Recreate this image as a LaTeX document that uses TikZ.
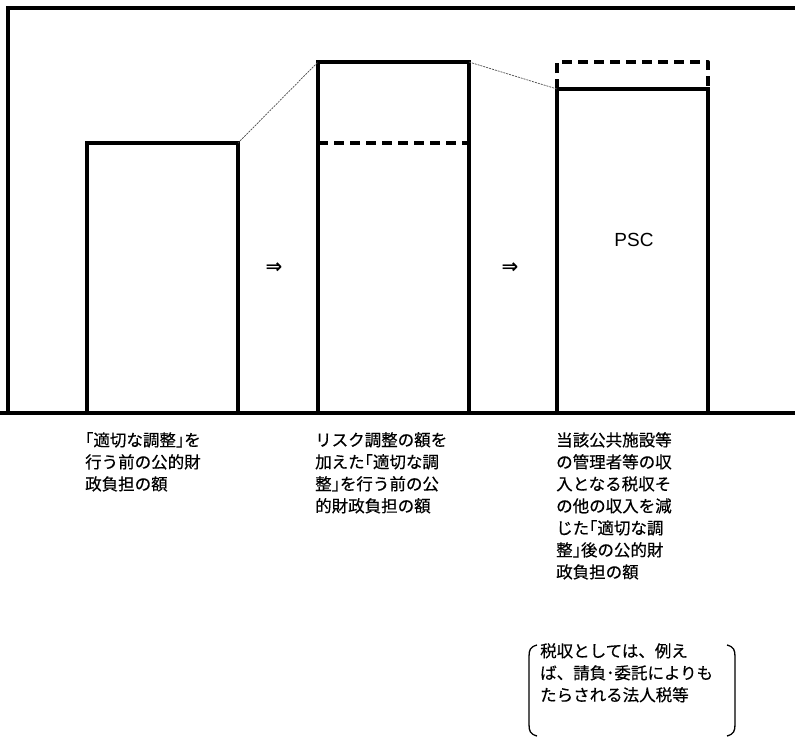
\documentclass[tikz,border=0pt]{standalone}
\usepackage{fontspec}
\newfontfamily\jp[FakeBold=0.4]{Noto Sans CJK JP}
\newfontfamily\lat{Liberation Sans}
\newfontfamily\sym{DejaVu Sans}
\begin{document}
\begin{tikzpicture}[x=1pt,y=-1pt,
  thickline/.style={line width=4pt},
  dashline/.style={line width=4pt,dash pattern=on 10pt off 6pt},
  guide/.style={line width=0.7pt,dash pattern=on 2pt off 1pt,black!70},
  bar/.style={draw,line width=4pt,inner sep=0pt,outer sep=0pt,minimum width=151pt,anchor=south west},
  label/.style={anchor=north west,inner sep=0pt,align=left,font=\jp\fontsize{16.5}{22}\selectfont}
]
\useasboundingbox (0,0) rectangle (795,740);
\fill[white] (0,0) rectangle (795,740);
% frame
\draw[thickline] (0,413) -- (795,413);
\draw[thickline] (8,413) -- (8,8) -- (795,8);
% bars
\node[bar,minimum height=270pt] (b1) at (87,413) {};
\node[bar,minimum height=351pt] (b2) at (318,413) {};
\node[bar,minimum height=324pt] (b3) at (557,413) {};
\coordinate (d2l) at (318,143);
\coordinate (d2r) at (469,143);
\draw[dashline] (d2l) -- (d2r);
\coordinate (d3l) at (557,89);
\coordinate (d3r) at (708,89);
\draw[dashline,line join=round] (d3l) -- (557,62) -- (708,62) -- (d3r);
% guides
\draw[guide] (b1.north east) -- (b2.north west);
\draw[guide] (b2.north east) -- (b3.north west);
% arrows and label
\node[font=\sym\bfseries\fontsize{20}{20}\selectfont] (a1) at (274,268) {⇒};
\node[font=\sym\bfseries\fontsize{20}{20}\selectfont] (a2) at (510,268) {⇒};
\node[font=\lat\fontsize{19}{19}\selectfont] (psc) at (634,240) {PSC};
% texts
\node[label] (t1) at (85,432) {｢適切な調整｣を\\行う前の公的財\\政負担の額};
\node[label] (t2) at (315,432) {リスク調整の額を\\加えた｢適切な調\\整｣を行う前の公\\的財政負担の額};
\node[label] (t3) at (556,432) {当該公共施設等\\の管理者等の収\\入となる税収そ\\の他の収入を減\\じた｢適切な調\\整｣後の公的財\\政負担の額};
\node[label] (t4) at (540,643) {税収としては、例え\\ば、請負･委託によりも\\たらされる法人税等};
% brackets
\coordinate (bl) at (529,690);
\coordinate (br) at (735,690);
\draw[line width=1.3pt] (537,645) .. controls (530,647) and (529,650) .. (529,657) -- (529,724) .. controls (529,731) and (530,734) .. (537,736);
\draw[line width=1.3pt] (727,645) .. controls (734,647) and (735,650) .. (735,657) -- (735,724) .. controls (735,731) and (734,734) .. (727,736);
\end{tikzpicture}
\end{document}
